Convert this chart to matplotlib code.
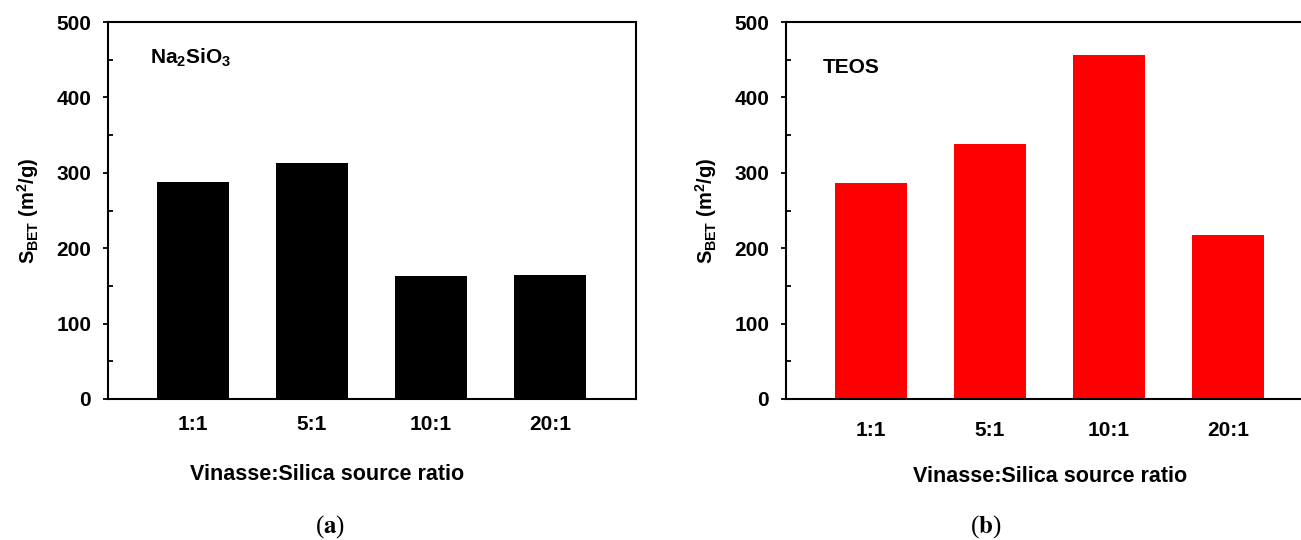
import numpy as np
import matplotlib
matplotlib.use("Agg")
import matplotlib.pyplot as plt
from matplotlib.ticker import MultipleLocator

plt.rcParams["font.family"] = ["Liberation Sans", "DejaVu Sans"]
plt.rcParams["font.weight"] = "bold"
plt.rcParams["mathtext.fontset"] = "custom"
plt.rcParams["mathtext.rm"] = "Liberation Sans:bold"
plt.rcParams["mathtext.it"] = "Liberation Sans:bold"
plt.rcParams["mathtext.bf"] = "Liberation Sans:bold"

ratios = ["1:1", "5:1", "10:1", "20:1"]
sbet_na2sio3 = [288, 313, 163, 164]
sbet_teos = [286, 338, 456, 217]

W, H = 1301, 540
fig = plt.figure(figsize=(W / 100, H / 100), dpi=100)


def panel(left_px, top_px, bottom_px, values, color, label, label_xy,
          tick_pad, xlabel_xy):
    ax = fig.add_axes([left_px / W, 1 - bottom_px / H,
                       528 / W, (bottom_px - top_px) / H])
    x = np.arange(len(values))
    ax.bar(x, values, width=0.6, color=color, edgecolor="none")
    ax.set_xlim(-0.714, 3.723)
    ax.set_ylim(0, 500)
    ax.set_xticks(x)
    ax.set_xticklabels(ratios, fontsize=15, fontweight="bold")
    ax.yaxis.set_major_locator(MultipleLocator(100))
    ax.yaxis.set_minor_locator(MultipleLocator(50))
    ax.tick_params(axis="x", length=0, pad=tick_pad)
    ax.tick_params(axis="y", which="major", direction="out", length=3.6,
                   width=1.3, labelsize=15, pad=8.5)
    ax.tick_params(axis="y", which="minor", direction="in", length=3.6,
                   width=1.3)
    for s in ax.spines.values():
        s.set_linewidth(1.5)
    ax.set_ylabel(r"$S_{BET}$ (m$^{2}$/g)", fontsize=14.5, fontweight="bold",
                  va="center")
    ax.yaxis.set_label_coords(-80 / 528, 0.5)
    ax.set_xlabel("Vinasse:Silica source ratio", fontsize=15.5,
                  fontweight="bold", va="center")
    ax.xaxis.set_label_coords(*xlabel_xy)
    ax.text(label_xy[0], label_xy[1], label, transform=ax.transAxes,
            fontsize=15, fontweight="bold", va="baseline", ha="left")
    return ax


panel(108, 22, 399, sbet_na2sio3, "black", r"Na$_{2}$SiO$_{3}$",
      (0.0795, 0.889), 11.5, ((327 - 108) / 528, -76 / 377))
panel(786, 22, 399, sbet_teos, "#ff0000", "TEOS",
      (0.070, 0.865), 16, (0.5, -78 / 377))

# panel captions: plain parentheses, bold letter
for cx, letter in [(330, "a"), (986, "b")]:
    fig.text(cx / W, 1 - 527 / H, r"($\mathbf{%s}$)" % letter,
             family="Liberation Serif", math_fontfamily="stix",
             fontweight="normal", fontsize=18, ha="center", va="center")

fig.savefig("out.png", dpi=100)
